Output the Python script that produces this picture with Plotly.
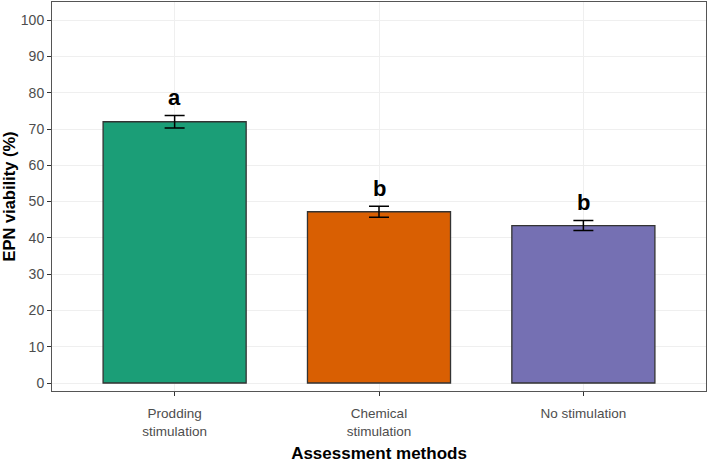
import plotly.graph_objects as go

categories = ["Prodding stimulation", "Chemical stimulation", "No stimulation"]
tick_labels = ["Prodding<br>stimulation", "Chemical<br>stimulation", "No stimulation"]
means = [72.0, 47.2, 43.4]
errors = [1.7, 1.5, 1.4]
letters = ["a", "b", "b"]
colors = ["#1B9E77", "#D95F02", "#7570B3"]

FONT = "Arial, Liberation Sans, sans-serif"

fig = go.Figure()
fig.add_trace(go.Bar(
    x=categories, y=means, width=0.7,
    marker=dict(color=colors, line=dict(color="#333333", width=1.3)),
    error_y=dict(type="data", array=errors, visible=True, color="black",
                 thickness=1.5, width=10),
    showlegend=False,
))

for c, m, e, l in zip(categories, means, errors, letters):
    fig.add_annotation(x=c, y=m + e + 0.9, text="<b>%s</b>" % l, showarrow=False,
                       yanchor="bottom", font=dict(family=FONT, size=22, color="black"))

fig.update_layout(
    width=709, height=464,
    margin=dict(l=52, r=3, t=2, b=73),
    paper_bgcolor="white", plot_bgcolor="white",
    font=dict(family=FONT, color="#4D4D4D"),
    bargap=0.3,
)
fig.update_xaxes(
    range=[-0.6, 2.6], tickmode="array", tickvals=categories, ticktext=tick_labels,
    tickfont=dict(size=13.5, color="#4D4D4D"),
    ticks="outside", ticklen=4, tickcolor="#333333", ticklabelstandoff=6,
    showgrid=True, gridcolor="#EFEFEF", gridwidth=0.8,
    showline=True, linecolor="#555555", linewidth=1, mirror=True,
    title=dict(text="<b>Assessment methods</b>", font=dict(size=17, color="black"), standoff=9),
)
fig.update_yaxes(
    range=[-2.2, 105], tickmode="array", tickvals=list(range(0, 101, 10)),
    tickfont=dict(size=14, color="#4D4D4D"),
    ticks="outside", ticklen=4, tickcolor="#333333",
    showgrid=True, gridcolor="#EFEFEF", gridwidth=0.8, zeroline=False,
    showline=True, linecolor="#555555", linewidth=1, mirror=True,
    title=dict(text="<b>EPN viability (%)</b>", font=dict(size=16.5, color="black"), standoff=6),
)

fig.write_html("out.html")
